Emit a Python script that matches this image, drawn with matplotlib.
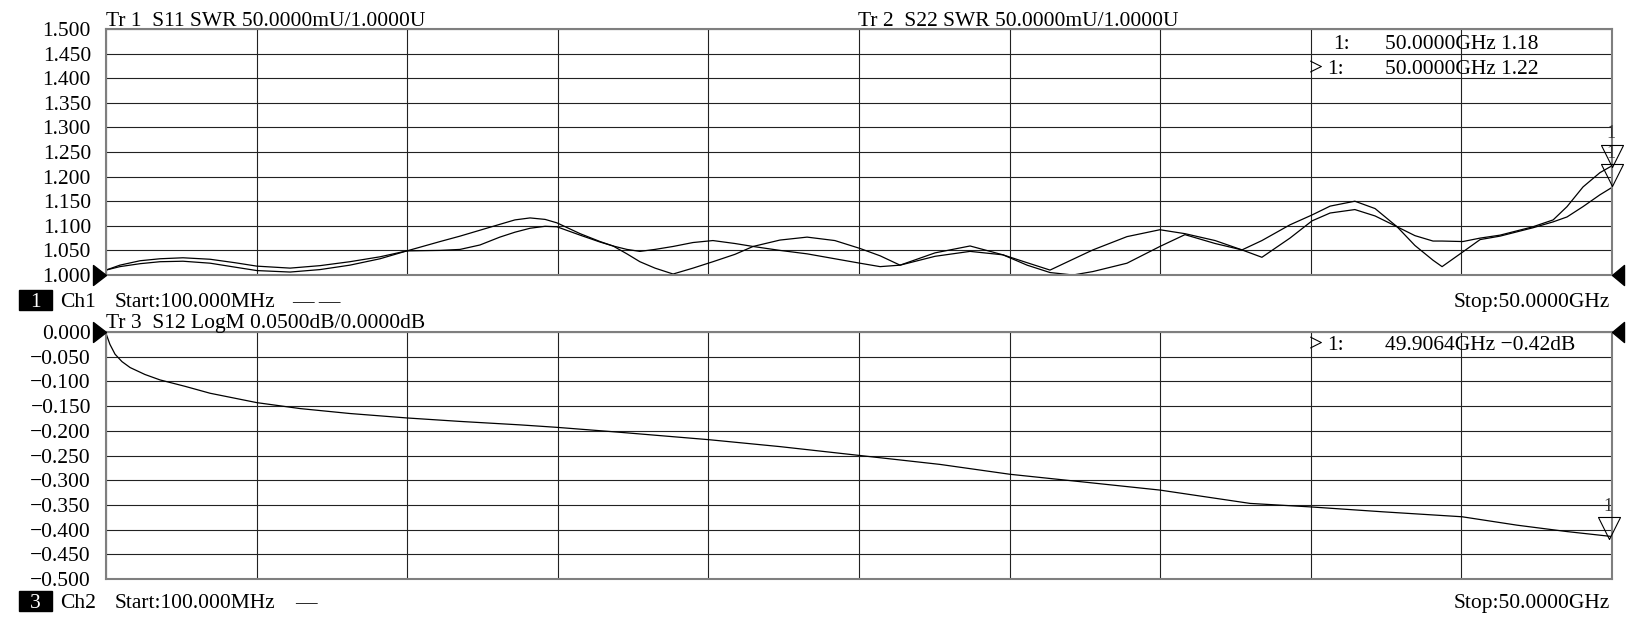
import numpy as np
import matplotlib
matplotlib.use("Agg")
import matplotlib.pyplot as plt
from matplotlib.patches import Rectangle

# figure size in pixels, everything below is laid out in these pixels
W, H = 1636, 624

# ---- data ----
# Ch1: two SWR traces (drawn as upper / lower envelope, same look)
freq_swr = [0.10, 0.56, 1.23, 1.89, 2.65, 3.55, 4.37, 5.10, 6.20, 7.19,
            8.18, 9.18, 10.07, 11.17, 11.83, 12.49, 13.15, 13.65, 14.15, 14.65,
            15.04, 15.81, 16.47, 16.90, 17.36, 17.79, 18.29, 18.89, 19.55, 20.21,
            20.94, 21.54, 22.43, 23.33, 24.25, 25.08, 25.75, 26.41, 27.57, 28.73,
            29.82, 30.62, 31.38, 32.14, 32.80, 33.93, 35.02, 35.85, 36.85, 37.74,
            38.40, 39.33, 40.06, 40.66, 41.48, 42.15, 42.88, 43.47, 44.07, 44.37,
            45.06, 45.63, 46.29, 47.38, 48.05, 48.51, 49.04, 49.60, 50.00]
swr_upper = [1.010, 1.020, 1.029, 1.033, 1.035, 1.032, 1.025, 1.018, 1.014, 1.019,
             1.027, 1.037, 1.049, 1.068, 1.079, 1.091, 1.103, 1.112, 1.116, 1.113,
             1.106, 1.084, 1.068, 1.059, 1.052, 1.048, 1.052, 1.058, 1.066, 1.070,
             1.064, 1.058, 1.071, 1.077, 1.070, 1.054, 1.039, 1.020, 1.045, 1.059,
             1.041, 1.025, 1.010, 1.032, 1.051, 1.078, 1.092, 1.084, 1.070, 1.051,
             1.070, 1.102, 1.122, 1.140, 1.150, 1.135, 1.098, 1.080, 1.069, 1.069,
             1.068, 1.075, 1.081, 1.098, 1.112, 1.139, 1.179, 1.208, 1.222]
swr_lower = [1.010, 1.017, 1.023, 1.027, 1.028, 1.024, 1.016, 1.009, 1.006, 1.011,
             1.020, 1.033, 1.049, 1.050, 1.052, 1.061, 1.077, 1.087, 1.095, 1.099,
             1.098, 1.081, 1.067, 1.059, 1.043, 1.027, 1.014, 1.002, 1.014, 1.027,
             1.042, 1.058, 1.050, 1.043, 1.033, 1.024, 1.017, 1.020, 1.038, 1.048,
             1.041, 1.020, 1.005, 1.000, 1.007, 1.024, 1.058, 1.082, 1.064, 1.051,
             1.036, 1.075, 1.110, 1.126, 1.133, 1.120, 1.098, 1.060, 1.030, 1.017,
             1.047, 1.072, 1.079, 1.096, 1.108, 1.118, 1.139, 1.163, 1.178]

# Ch2: S12 LogM trace
freq_s12 = [0.10, 0.23, 0.40, 0.63, 0.90, 1.39, 1.89, 2.72, 3.55, 5.10,
            6.53, 8.18, 10.07, 11.83, 13.82, 15.04, 17.13, 20.08, 22.43, 25.08,
            27.73, 30.05, 32.70, 35.02, 38.01, 40.00, 42.41, 45.03, 46.85, 48.51,
            50.00]
s12_db = [-0.003, -0.025, -0.045, -0.060, -0.072, -0.086, -0.097, -0.110, -0.124, -0.143,
          -0.155, -0.165, -0.174, -0.181, -0.188, -0.193, -0.203, -0.218, -0.232, -0.250,
          -0.268, -0.288, -0.305, -0.320, -0.347, -0.354, -0.364, -0.374, -0.391, -0.404,
          -0.414]

# markers
mk_swr_freq = [50.0, 50.0]
mk_swr_val = [1.18, 1.22]
mk_s12_freq = [49.9064]
mk_s12_val = [-0.42]

f_start, f_stop = 0.1, 50.0

FONT = "Liberation Serif"
FS = 15.5


def fx(px):
    return px / W


def fy(py):
    return 1 - py / H


def txt(px, py, s, **kw):
    kw.setdefault("fontsize", FS)
    fig.text(fx(px), fy(py), s, family=FONT, va="baseline", **kw)


def setup(ax, ylo, yhi):
    ax.set_xlim(f_start, f_stop)
    ax.set_ylim(ylo, yhi)
    ax.set_xticks(np.linspace(f_start, f_stop, 11))
    yt = np.linspace(ylo, yhi, 11)
    ax.set_yticks(yt)
    ax.set_yticklabels([f"{v:.3f}".replace("-", "\u2212") for v in yt],
                       family=FONT, fontsize=FS)
    ax.tick_params(length=0, labelbottom=False, pad=10.8)
    ax.grid(True, color="#222222", lw=0.8)
    for sp in ax.spines.values():
        sp.set_color("#7f7f7f")
        sp.set_linewidth(1.5)


fig = plt.figure(figsize=(W / 100, H / 100), dpi=100)
ax1 = fig.add_axes([fx(106), fy(275), 1506 / W, 246 / H])
ax2 = fig.add_axes([fx(106), fy(579), 1506 / W, 247 / H])
setup(ax1, 1.0, 1.5)
setup(ax2, -0.5, 0.0)

ax1.plot(freq_swr, swr_upper, color="black", lw=0.9, clip_on=False)
ax1.plot(freq_swr, swr_lower, color="black", lw=0.9, clip_on=False)
ax2.plot(freq_s12, s12_db, color="black", lw=0.9, clip_on=False)

# reference-level arrows on both sides
right_tri = [(0, 0), (-13, 10), (-13, -10), (0, 0)]
left_tri = [(0, 0), (12, 10), (12, -10), (0, 0)]
for ax, ref in ((ax1, 1.0), (ax2, 0.0)):
    ax.plot([f_start], [ref], marker=right_tri, ms=18.7, color="black",
            clip_on=False, zorder=5)
    ax.plot([f_stop], [ref], marker=left_tri, ms=17.3, color="black",
            clip_on=False, zorder=5)

# marker triangles with "1" above
down_tri = [(0, 0), (-11, 22), (11, 22), (0, 0)]
for ax, mf, mv in ((ax1, mk_swr_freq, mk_swr_val), (ax2, mk_s12_freq, mk_s12_val)):
    for f, v in zip(mf, mv):
        ax.plot([f], [v], marker=down_tri, ms=31.7, mfc="none", mec="black",
                mew=0.8, clip_on=False, zorder=6)
        ax.annotate("1", (f, v), xytext=(-1, 24), textcoords="offset points",
                    ha="center", va="center", family=FONT, fontsize=13,
                    color="#333333", annotation_clip=False)

# header texts
txt(106, 26, "Tr 1  S11 SWR 50.0000mU/1.0000U")
txt(858, 26, "Tr 2  S22 SWR 50.0000mU/1.0000U")
txt(1333, 49, "1:")
txt(1385, 49, f"{mk_swr_freq[0]:.4f}GHz {mk_swr_val[0]:.2f}")
txt(1309, 75, ">", fontsize=18)
txt(1327, 74, "1:")
txt(1385, 74, f"{mk_swr_freq[1]:.4f}GHz {mk_swr_val[1]:.2f}")

# channel bars
fig.patches.append(Rectangle((fx(19), fy(310)), 33 / W, 20 / H, transform=fig.transFigure,
                             color="black"))
txt(35, 307, "1", color="white", ha="center")
txt(60, 307, "Ch1")
txt(115, 307, "Start:100.000MHz")
txt(292, 307, "\u2014 \u2014")
txt(1610, 307, "Stop:50.0000GHz", ha="right")

txt(106, 328, "Tr 3  S12 LogM 0.0500dB/0.0000dB")
txt(1309, 351, ">", fontsize=18)
txt(1327, 350, "1:")
txt(1385, 350, f"{mk_s12_freq[0]:.4f}GHz {mk_s12_val[0]:.2f}dB".replace("-", "\u2212"))

fig.patches.append(Rectangle((fx(19), fy(611)), 33 / W, 20 / H, transform=fig.transFigure,
                             color="black"))
txt(35, 608, "3", color="white", ha="center")
txt(60, 608, "Ch2")
txt(115, 608, "Start:100.000MHz")
txt(295, 608, "\u2014")
txt(1610, 608, "Stop:50.0000GHz", ha="right")

fig.savefig("out.png", dpi=100, facecolor="white")
